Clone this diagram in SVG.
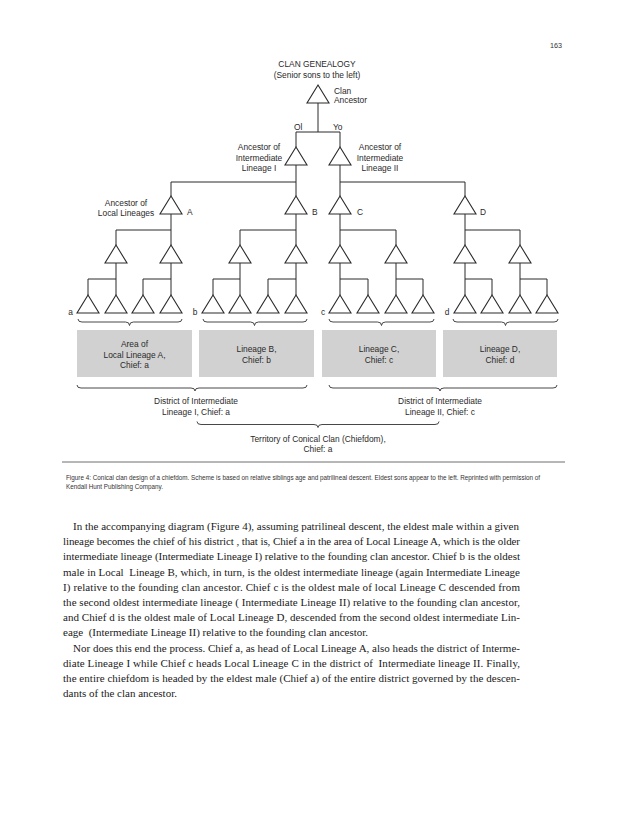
<svg xmlns="http://www.w3.org/2000/svg" width="630" height="815" viewBox="0 0 630 815">
<defs>
<style>
.bg{fill:#ffffff}
.tri{fill:#ffffff;stroke:#2b2b2b;stroke-width:1.1}
.ln{fill:none;stroke:#2b2b2b;stroke-width:1}
.br{fill:none;stroke:#333;stroke-width:0.9}
.box{fill:#d1d1d1}
.t{font-family:"Liberation Sans",Arial,sans-serif;font-size:8.4px;fill:#2a2a2a}
.c{text-anchor:middle}
.cap{font-family:"Liberation Sans",Arial,sans-serif;font-size:8px;fill:#333}
.body{font-family:"Liberation Serif","Times New Roman",serif;font-size:11px;fill:#1a1a1a;white-space:pre}
</style>
<path id="tr" d="M0 0 L11 18 L-11 18 Z"/>
</defs>
<rect class="bg" x="0" y="0" width="630" height="815"/>
<text class="cap c" x="556" y="47.5" font-size="8.6" textLength="12" lengthAdjust="spacingAndGlyphs">163</text>

<g id="title">
<text class="t c" x="317" y="67">CLAN GENEALOGY</text>
<text class="t c" x="317" y="78">(Senior sons to the left)</text>
</g>

<g id="connectors">
<path class="ln" d="M318 103 V132 M296 132 H340 M296 132 V147 M340 132 V147"/>
<path class="ln" d="M296 165 V196 M171 182 H296 M171 182 V196 M340 165 V196 M340 182 H465 M465 182 V196"/>
<path class="ln" d="M171 214 V245 M116 230 H171 M116 230 V245 M296 214 V245 M240 230 H296 M240 230 V245 M340 214 V245 M340 230 H396 M396 230 V245 M465 214 V245 M465 230 H520 M520 230 V245"/>
<path class="ln" d="M116 263 V295 M88 279 H116 M88 279 V295 M171 263 V295 M143 279 H171 M143 279 V295 M240 263 V295 M213 279 H240 M213 279 V295 M296 263 V295 M268 279 H296 M268 279 V295 M340 263 V295 M340 279 H368 M368 279 V295 M396 263 V295 M396 279 H423 M423 279 V295 M465 263 V295 M465 279 H492 M492 279 V295 M520 263 V295 M520 279 H547 M547 279 V295"/>
</g>

<g id="clan-ancestor">
<use href="#tr" class="tri" x="318" y="85"/>
<text class="t" x="334" y="94">Clan</text>
<text class="t" x="334" y="103">Ancestor</text>
</g>
<g id="seniority-labels">
<text class="t" x="294" y="130">Ol</text>
<text class="t" x="333" y="130">Yo</text>
</g>
<g id="intermediate-I">
<use href="#tr" class="tri" x="296" y="147"/>
<text class="t c" x="259" y="150">Ancestor of</text>
<text class="t c" x="259" y="160.5">Intermediate</text>
<text class="t c" x="259" y="171">Lineage I</text>
</g>
<g id="intermediate-II">
<use href="#tr" class="tri" x="340" y="147"/>
<text class="t c" x="380" y="150">Ancestor of</text>
<text class="t c" x="380" y="160.5">Intermediate</text>
<text class="t c" x="380" y="171">Lineage II</text>
</g>
<g id="local-A">
<use href="#tr" class="tri" x="171" y="196"/>
<text class="t c" x="126" y="206">Ancestor of</text>
<text class="t c" x="126" y="216">Local Lineages</text>
<text class="t" x="187" y="215">A</text>
</g>
<g id="local-B">
<use href="#tr" class="tri" x="296" y="196"/>
<text class="t" x="312" y="215">B</text>
</g>
<g id="local-C">
<use href="#tr" class="tri" x="340" y="196"/>
<text class="t" x="357" y="215">C</text>
</g>
<g id="local-D">
<use href="#tr" class="tri" x="465" y="196"/>
<text class="t" x="480" y="215">D</text>
</g>

<g id="level3">
<use href="#tr" class="tri" x="116" y="245"/>
<use href="#tr" class="tri" x="171" y="245"/>
<use href="#tr" class="tri" x="240" y="245"/>
<use href="#tr" class="tri" x="296" y="245"/>
<use href="#tr" class="tri" x="340" y="245"/>
<use href="#tr" class="tri" x="396" y="245"/>
<use href="#tr" class="tri" x="465" y="245"/>
<use href="#tr" class="tri" x="520" y="245"/>
</g>
<g id="level4-a">
<use href="#tr" class="tri" x="88" y="295"/>
<use href="#tr" class="tri" x="116" y="295"/>
<use href="#tr" class="tri" x="143" y="295"/>
<use href="#tr" class="tri" x="171" y="295"/>
<text class="t c" x="70.5" y="314.5">a</text>
</g>
<g id="level4-b">
<use href="#tr" class="tri" x="213" y="295"/>
<use href="#tr" class="tri" x="240" y="295"/>
<use href="#tr" class="tri" x="268" y="295"/>
<use href="#tr" class="tri" x="296" y="295"/>
<text class="t c" x="195" y="314.5">b</text>
</g>
<g id="level4-c">
<use href="#tr" class="tri" x="340" y="295"/>
<use href="#tr" class="tri" x="368" y="295"/>
<use href="#tr" class="tri" x="396" y="295"/>
<use href="#tr" class="tri" x="423" y="295"/>
<text class="t c" x="323" y="314.5">c</text>
</g>
<g id="level4-d">
<use href="#tr" class="tri" x="465" y="295"/>
<use href="#tr" class="tri" x="492" y="295"/>
<use href="#tr" class="tri" x="520" y="295"/>
<use href="#tr" class="tri" x="547" y="295"/>
<text class="t c" x="447" y="314.5">d</text>
</g>

<g id="braces">
<path class="br" d="M78 319 Q78 322 82 322 L125.5 322 Q129.5 322 129.5 325.5 Q129.5 322 133.5 322 L178 322 Q182 322 182 319"/>
<path class="br" d="M203 319 Q203 322 207 322 L250.5 322 Q254.5 322 254.5 325.5 Q254.5 322 258.5 322 L303 322 Q307 322 307 319"/>
<path class="br" d="M329 319 Q329 322 333 322 L377.5 322 Q381.5 322 381.5 325.5 Q381.5 322 385.5 322 L430 322 Q434 322 434 319"/>
<path class="br" d="M453 319 Q453 322 457 322 L501.5 322 Q505.5 322 505.5 325.5 Q505.5 322 509.5 322 L554 322 Q558 322 558 319"/>
<path class="br" d="M77 385 Q77 388 81 388 L191 388 Q195 388 195 391 Q195 388 199 388 L303 388 Q307 388 307 385"/>
<path class="br" d="M329 385 Q329 388 333 388 L436 388 Q440 388 440 391 Q440 388 444 388 L553 388 Q557 388 557 385"/>
<path class="br" d="M197 421.5 Q197 424.5 201 424.5 L314 424.5 Q318 424.5 318 427.5 Q318 424.5 322 424.5 L435 424.5 Q439 424.5 439 421.5"/>
</g>

<g id="area-A">
<rect class="box" x="77" y="330" width="115" height="47"/>
<text class="t c" x="134.5" y="347">Area of</text>
<text class="t c" x="134.5" y="357.5">Local Lineage A,</text>
<text class="t c" x="134.5" y="368">Chief: a</text>
</g>
<g id="area-B">
<rect class="box" x="199" y="330" width="115" height="47"/>
<text class="t c" x="256.5" y="352">Lineage B,</text>
<text class="t c" x="256.5" y="362.5">Chief: b</text>
</g>
<g id="area-C">
<rect class="box" x="322" y="330" width="114" height="47"/>
<text class="t c" x="379" y="352">Lineage C,</text>
<text class="t c" x="379" y="362.5">Chief: c</text>
</g>
<g id="area-D">
<rect class="box" x="443" y="330" width="114" height="47"/>
<text class="t c" x="500" y="352">Lineage D,</text>
<text class="t c" x="500" y="362.5">Chief: d</text>
</g>

<g id="district-I">
<text class="t c" x="196" y="404">District of Intermediate</text>
<text class="t c" x="196" y="414.5">Lineage I, Chief: a</text>
</g>
<g id="district-II">
<text class="t c" x="440" y="404">District of Intermediate</text>
<text class="t c" x="440" y="414.5">Lineage II, Chief: c</text>
</g>
<g id="territory">
<text class="t c" x="318" y="441.5">Territory of Conical Clan (Chiefdom),</text>
<text class="t c" x="318" y="451.5">Chief: a</text>
</g>

<line x1="62" y1="462" x2="565" y2="462" stroke="#6e6e6e" stroke-width="1"/>
<g id="caption" transform="translate(66 0) scale(0.785 1)">
<text class="cap" x="0" y="479.5" textLength="604" lengthAdjust="spacingAndGlyphs">Figure 4: Conical clan design of a chiefdom. Scheme is based on relative siblings age and patrilineal descent. Eldest sons appear to the left. Reprinted with permission of</text>
<text class="cap" x="0" y="489.5" textLength="123.5" lengthAdjust="spacingAndGlyphs">Kendall Hunt Publishing Company.</text>
</g>

<text class="body" x="73" y="530" textLength="446" lengthAdjust="spacing">In the accompanying diagram (Figure 4), assuming patrilineal descent, the eldest male within a given</text>
<text class="body" x="63" y="545.2" textLength="457" lengthAdjust="spacing">lineage becomes the chief of his district , that is, Chief a in the area of Local Lineage A, which is the older</text>
<text class="body" x="63" y="560.4" textLength="457" lengthAdjust="spacing">intermediate lineage (Intermediate Lineage I) relative to the founding clan ancestor. Chief b is the oldest</text>
<text class="body" x="63" y="575.6" textLength="457" lengthAdjust="spacing">male in Local  Lineage B, which, in turn, is the oldest intermediate lineage (again Intermediate Lineage</text>
<text class="body" x="63" y="590.8" textLength="457" lengthAdjust="spacing">I) relative to the founding clan ancestor. Chief c is the oldest male of local Lineage C descended from</text>
<text class="body" x="63" y="606" textLength="457" lengthAdjust="spacing">the second oldest intermediate lineage ( Intermediate Lineage II) relative to the founding clan ancestor,</text>
<text class="body" x="63" y="621.2" textLength="457" lengthAdjust="spacing">and Chief d is the oldest male of Local Lineage D, descended from the second oldest intermediate Lin-</text>
<text class="body" x="63" y="636.4">eage  (Intermediate Lineage II) relative to the founding clan ancestor.</text>
<text class="body" x="73" y="651.6" textLength="447" lengthAdjust="spacing">Nor does this end the process. Chief a, as head of Local Lineage A, also heads the district of Interme-</text>
<text class="body" x="63" y="666.8" textLength="457" lengthAdjust="spacing">diate Lineage I while Chief c heads Local Lineage C in the district of  Intermediate lineage II. Finally,</text>
<text class="body" x="63" y="682" textLength="457" lengthAdjust="spacing">the entire chiefdom is headed by the eldest male (Chief a) of the entire district governed by the descen-</text>
<text class="body" x="63" y="697.2">dants of the clan ancestor.</text>
</svg>
